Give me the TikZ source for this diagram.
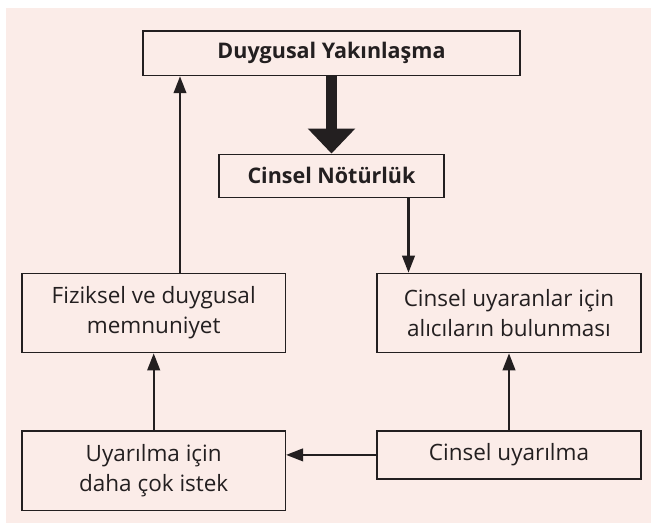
\documentclass[tikz,border=0pt]{standalone}
\usepackage{fontspec}
\setmainfont{Open Sans}
\usetikzlibrary{positioning, arrows.meta}
\definecolor{PaleRose}{RGB}{251, 236, 232}
\definecolor{InkGray}{RGB}{35, 31, 32}

\begin{document}
\begin{tikzpicture}[x=1pt, y=-1pt,
      box/.style={rectangle, draw=InkGray, line width=1.2pt, align=center, font=\fontsize{22.5}{30}\selectfont, text=InkGray, inner sep=0pt},
      headbox/.style={box, font=\bfseries\fontsize{21.5}{24}\selectfont},
      flow/.style={draw=InkGray, line width=2.4pt, -{Triangle[length=17pt, width=12.5pt]}},
      bigflow/.style={draw=InkGray, line width=11pt, -{Triangle[length=25pt, width=46pt]}}
    ]
      % background and margins
      \useasboundingbox (0,0) rectangle (651,529);
      \fill[PaleRose] (6,7.7) rectangle (651,522.7);

      \node[headbox, minimum width=377pt, minimum height=44.7pt] (yakin) at (331.5,53.3) {Duygusal Yakınlaşma};
      \node[headbox, minimum width=225pt, minimum height=43pt, below=77.3pt of yakin] (notr) {Cinsel Nötürlük};
      \node[box, minimum width=263.5pt, minimum height=79.4pt] (fizik) at (153.7,313) {Fiziksel ve duygusal\\memnuniyet};
      \node[box, minimum width=264pt, minimum height=79.4pt] (uyaran) at (509,313) {Cinsel uyaranlar için\\alıcıların bulunması};
      \node[box, minimum width=263.5pt, minimum height=79.3pt, below=77pt of fizik] (istek) {Uyarılma için\\daha çok istek};
      \node[box, minimum width=264pt, minimum height=48pt, anchor=north] (cuyar) at (uyaran.south |- istek.north) {Cinsel uyarılma};

      \draw[bigflow] (yakin) -- (notr);
      \draw[flow] ([xshift=77pt]notr.south) -- ([xshift=77pt]notr.south |- uyaran.north);
      \draw[flow] (uyaran.south |- cuyar.north) -- (uyaran.south);
      \draw[flow] (cuyar.west) -- (cuyar.west -| istek.east);
      \draw[flow] (istek.north) -- (fizik.south);
      \draw[flow] ([xshift=26.3pt]fizik.north) -- ([xshift=26.3pt]fizik.north |- yakin.south);
    \end{tikzpicture}
\end{document}
